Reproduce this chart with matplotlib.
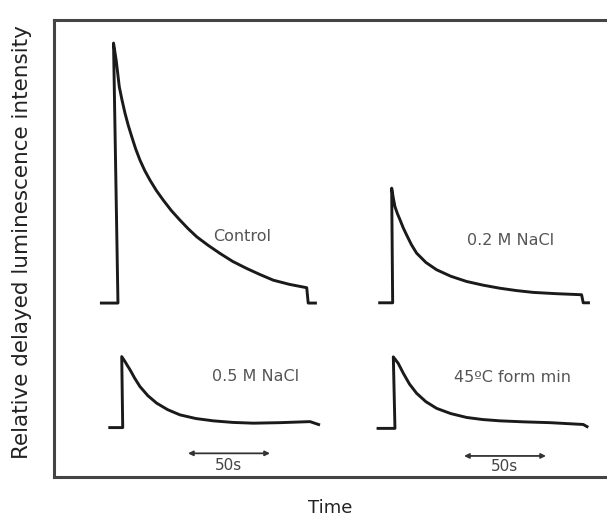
import matplotlib
matplotlib.use("Agg")
import numpy as np
from matplotlib import pyplot as plt

# time (s, relative to the light-off step) and relative intensity
control_t = [-11.0, 0.0, -2.7, -1.0, 0.8, 2.5, 4.3, 6.3, 8.4, 10.8, 13.4, 16.3, 19.5, 23.4, 27.6, 32.5,
             37.8, 42.8, 48.0, 55.0, 62.2, 70.0, 78.5, 86.5, 94.7, 104.5, 115.1, 116.0, 121.3]
control_v = [0.0, 0.0, 100.0, 93.0, 83.2, 78.0, 73.0, 68.3, 64.0, 59.3, 55.0, 51.0, 47.3, 43.3, 39.6, 35.6,
             31.9, 28.6, 25.5, 22.2, 19.1, 16.0, 13.3, 11.0, 8.8, 7.2, 5.9, 0.0, 0.0]

nacl02_t = [-8.8, 0.0, -0.6, 0.4, 1.4, 2.9, 4.5, 6.4, 8.5, 11.4, 14.6, 20.3, 26.8, 35.5, 45.1, 55.0,
            65.4, 75.5, 85.7, 100.0, 115.2, 116.2, 120.3]
nacl02_v = [0.0, 0.0, 44.1, 40.3, 37.0, 34.3, 31.9, 28.9, 26.1, 22.4, 19.1, 15.5, 12.7, 10.2, 8.2, 6.8,
            5.6, 4.7, 4.0, 3.5, 3.1, 0.0, 0.0]

nacl05_t = [-8.8, 0.0, -0.6, 1.4, 2.9, 4.5, 7.3, 10.5, 15.3, 20.7, 27.4, 34.9, 44.5, 55.2, 67.0, 79.6,
            95.9, 114.2, 120.3]
nacl05_v = [0.0, 0.0, 27.3, 25.4, 23.8, 22.2, 19.0, 15.8, 12.3, 9.4, 6.9, 4.9, 3.5, 2.6, 2.0, 1.7,
            1.9, 2.3, 1.0]

heat_t = [-11.2, 0.0, -1.0, 2.0, 5.1, 8.8, 13.2, 18.8, 25.4, 34.0, 43.7, 53.5, 64.0, 79.0, 94.5, 114.8, 117.9]
heat_v = [0.0, 0.0, 27.5, 25.0, 21.2, 17.1, 13.5, 10.3, 7.7, 5.7, 4.2, 3.4, 2.9, 2.5, 2.2, 1.5, 0.4]

labels = ["Control", "0.2 M NaCl", "0.5 M NaCl", "45\u00baC form min"]
scale_bar = 50  # seconds

# where each trace sits in the frame (x offset in s, baseline in intensity units)
traces = [
    (control_t, control_v, 39.0, 66.9, (114.5, 92.4)),
    (nacl02_t, nacl02_v, 206.5, 67.0, (278.5, 90.8)),
    (nacl05_t, nacl05_v, 41.9, 19.0, (122.6, 38.8)),
    (heat_t, heat_v, 207.9, 18.7, (279.6, 38.2)),
]

fig = plt.figure(figsize=(6.07, 5.18), dpi=100)
ax = fig.add_axes([54 / 607, 41 / 518, 1 - 54 / 607, 457 / 518])

for (t, v, x0, y0, txt_pos), label in zip(traces, labels):
    ax.plot(np.array(t) + x0, np.array(v) + y0, color="#1a1a1a", lw=2.1,
            solid_joinstyle="round", solid_capstyle="butt")
    ax.text(txt_pos[0], txt_pos[1], label, ha="center", va="center",
            fontsize=11.5, color="#555555", family="DejaVu Sans")

# 50 s scale bars under the bottom traces
for x_start, y_bar, y_txt in [(81.7, 9.1, 4.6), (250.0, 8.1, 4.2)]:
    ax.annotate("", xy=(x_start, y_bar), xytext=(x_start + scale_bar, y_bar),
                arrowprops=dict(arrowstyle="<|-|>", color="#333333", lw=1.3,
                                mutation_scale=7, shrinkA=0, shrinkB=0))
    ax.text(x_start + scale_bar / 2, y_txt, "%ds" % scale_bar, ha="center", va="center",
            fontsize=11, color="#444444")

ax.set_xlim(0, 553 / 1.64)
ax.set_ylim(0, 457 / 2.6)
ax.set_xticks([])
ax.set_yticks([])
ax.spines["right"].set_visible(False)
for side in ["left", "top", "bottom"]:
    ax.spines[side].set_linewidth(2.2)
    ax.spines[side].set_color("#444444")

fig.text(330 / 607, 1 - 508 / 518, "Time", ha="center", va="center", fontsize=13, color="#222222")
fig.text(22 / 607, 1 - 242 / 518, "Relative delayed luminescence intensity", ha="center", va="center",
         rotation=90, fontsize=15.5, color="#222222")

fig.savefig("out.png", dpi=100)
